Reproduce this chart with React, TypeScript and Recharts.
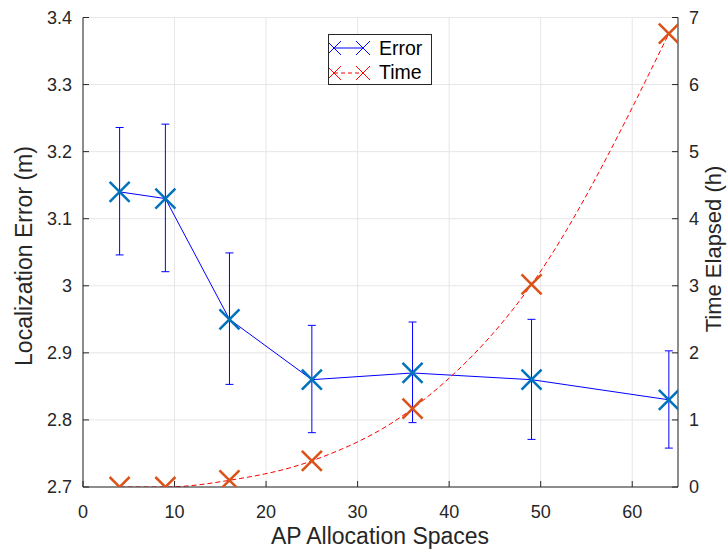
import React from "react";
import { ComposedChart, Line, XAxis, YAxis, CartesianGrid, ErrorBar } from "recharts";

const spaces = [4, 9, 16, 25, 36, 49, 64];
const errorMean = [3.14, 3.13, 2.95, 2.86, 2.87, 2.86, 2.83];
const errorLow = [3.046, 3.021, 2.853, 2.781, 2.796, 2.771, 2.758];
const errorHigh = [3.236, 3.241, 3.049, 2.941, 2.946, 2.95, 2.903];
const timeHours = [0, 0, 0.1, 0.39, 1.17, 3.02, 6.76];

const xTicks = [0, 10, 20, 30, 40, 50, 60];
const leftTicks = [2.7, 2.8, 2.9, 3, 3.1, 3.2, 3.3, 3.4];
const rightTicks = [0, 1, 2, 3, 4, 5, 6, 7];

const BLUE = "#0072BD";
const ORANGE = "#D95319";
const TEXT = "#262626";
const FONT = "'Liberation Sans', Arial, Helvetica, sans-serif";
const TICK_SIZE = 6;

const data = spaces.map((x, i) => ({
    x,
    error: errorMean[i],
    errRange: [errorMean[i] - errorLow[i], errorHigh[i] - errorMean[i]],
    time: timeHours[i],
}));

const makeCross = (color: string, r: number, w: number) => (props: any) => {
    const { cx, cy, index } = props;
    if (cx == null || cy == null) return <g key={index} />;
    return (
        <g key={index}>
            <line x1={cx - r} y1={cy - r} x2={cx + r} y2={cy + r} stroke={color} strokeWidth={w} />
            <line x1={cx - r} y1={cy + r} x2={cx + r} y2={cy - r} stroke={color} strokeWidth={w} />
        </g>
    );
};

// tick label plus a short tick pointing into the plot (matlab style)
const makeTick = (side: "left" | "right" | "bottom", margin: number, fmt?: (v: number) => string) => (props: any) => {
    const { x, y, payload, textAnchor } = props;
    const label = fmt ? fmt(payload.value) : String(payload.value);
    let tick = null;
    if (side === "left") {
        const ax = x + TICK_SIZE + margin;
        tick = <line x1={ax} y1={y} x2={ax + 6} y2={y} stroke={TEXT} />;
    } else if (side === "right") {
        const ax = x - TICK_SIZE - margin;
        tick = <line x1={ax} y1={y} x2={ax - 6} y2={y} stroke={TEXT} />;
    } else {
        const ay = y - TICK_SIZE - margin;
        tick = <line x1={x} y1={ay} x2={x} y2={ay - 6} stroke={TEXT} />;
    }
    return (
        <g>
            {tick}
            <text
                x={x}
                y={y}
                dy={side === "bottom" ? "0.71em" : "0.355em"}
                textAnchor={textAnchor}
                fill={TEXT}
                fontSize={18}
                fontFamily={FONT}
            >
                {label}
            </text>
        </g>
    );
};

// legend drawn as an overlay so it does not take room from the plot
const LegendBox = () => (
    <div
        style={{
            position: "absolute",
            left: 328,
            top: 34,
            width: 102,
            height: 49,
            border: `1px solid ${TEXT}`,
            background: "#fff",
            fontFamily: FONT,
            fontSize: 19.5,
            color: "#000",
        }}
    >
        <svg width={50} height={49} style={{ position: "absolute", left: 0, top: 0 }}>
            <line x1={5} y1={13} x2={34} y2={13} stroke="#0000ff" strokeWidth={1} />
            {[5, 34].map((cx) => (
                <g key={cx}>
                    <line x1={cx - 7} y1={6} x2={cx + 7} y2={20} stroke="#0000ff" strokeWidth={1} />
                    <line x1={cx - 7} y1={20} x2={cx + 7} y2={6} stroke="#0000ff" strokeWidth={1} />
                </g>
            ))}
            <line x1={5} y1={38} x2={34} y2={38} stroke="#ff0000" strokeWidth={1} strokeDasharray="4 3" />
            {[5, 34].map((cx) => (
                <g key={cx}>
                    <line x1={cx - 7} y1={31} x2={cx + 7} y2={45} stroke="#ff0000" strokeWidth={1} />
                    <line x1={cx - 7} y1={45} x2={cx + 7} y2={31} stroke="#ff0000" strokeWidth={1} />
                </g>
            ))}
        </svg>
        <div style={{ position: "absolute", left: 50, top: 2, lineHeight: "22px" }}>Error</div>
        <div style={{ position: "absolute", left: 50, top: 26, lineHeight: "22px" }}>Time</div>
    </div>
);

export default function App() {
    return (
        <div style={{ position: "absolute", left: 0, top: 0, width: 728, height: 551, background: "#fff" }}>
            <ComposedChart
                width={728}
                height={551}
                data={data}
                margin={{ top: 17.5, right: 10, bottom: 24, left: 23 }}
                style={{ fontFamily: FONT }}
            >
                <CartesianGrid yAxisId="left" stroke="#e6e6e6" strokeWidth={1} />
                <XAxis
                    dataKey="x"
                    type="number"
                    domain={[0, 65]}
                    ticks={xTicks}
                    height={40}
                    tickLine={false}
                    tickSize={TICK_SIZE}
                    tickMargin={12}
                    tick={makeTick("bottom", 12)}
                    axisLine={{ stroke: TEXT }}
                    allowDataOverflow
                    label={{
                        content: () => (
                            <text x={380} y={544} textAnchor="middle" fill={TEXT} fontSize={23} fontFamily={FONT}>
                                AP Allocation Spaces
                            </text>
                        ),
                    }}
                />
                <YAxis
                    yAxisId="left"
                    type="number"
                    domain={[2.7, 3.4]}
                    ticks={leftTicks}
                    width={60}
                    tickLine={false}
                    tickSize={TICK_SIZE}
                    tickMargin={5}
                    tick={makeTick("left", 5, (v) => String(Math.round(v * 10) / 10))}
                    axisLine={{ stroke: TEXT }}
                    allowDataOverflow
                    label={{
                        content: () => (
                            <text
                                x={32}
                                y={256}
                                transform="rotate(-90 32 256)"
                                textAnchor="middle"
                                fill={TEXT}
                                fontSize={23}
                                fontFamily={FONT}
                            >
                                Localization Error (m)
                            </text>
                        ),
                    }}
                />
                <YAxis
                    yAxisId="right"
                    orientation="right"
                    type="number"
                    domain={[0, 7]}
                    ticks={rightTicks}
                    width={40}
                    tickLine={false}
                    tickSize={TICK_SIZE}
                    tickMargin={5}
                    tick={makeTick("right", 5)}
                    axisLine={{ stroke: TEXT }}
                    allowDataOverflow
                    label={{
                        content: () => (
                            <text
                                x={721}
                                y={249}
                                transform="rotate(-90 721 249)"
                                textAnchor="middle"
                                fill={TEXT}
                                fontSize={22}
                                fontFamily={FONT}
                            >
                                Time Elapsed (h)
                            </text>
                        ),
                    }}
                />
                <Line
                    yAxisId="left"
                    dataKey="error"
                    type="linear"
                    stroke="#0000ff"
                    strokeWidth={1}
                    dot={makeCross(BLUE, 10, 2.5)}
                    activeDot={false}
                    isAnimationActive={false}
                >
                    <ErrorBar
                        dataKey="errRange"
                        direction="y"
                        width={4}
                        stroke="#0000ff"
                        strokeWidth={1}
                        isAnimationActive={false}
                    />
                </Line>
                <Line
                    yAxisId="right"
                    dataKey="time"
                    type="monotone"
                    stroke="#ff0000"
                    strokeWidth={1}
                    strokeDasharray="5 3"
                    dot={makeCross(ORANGE, 10, 2.5)}
                    activeDot={false}
                    isAnimationActive={false}
                />
            </ComposedChart>
            <LegendBox />
        </div>
    );
}
